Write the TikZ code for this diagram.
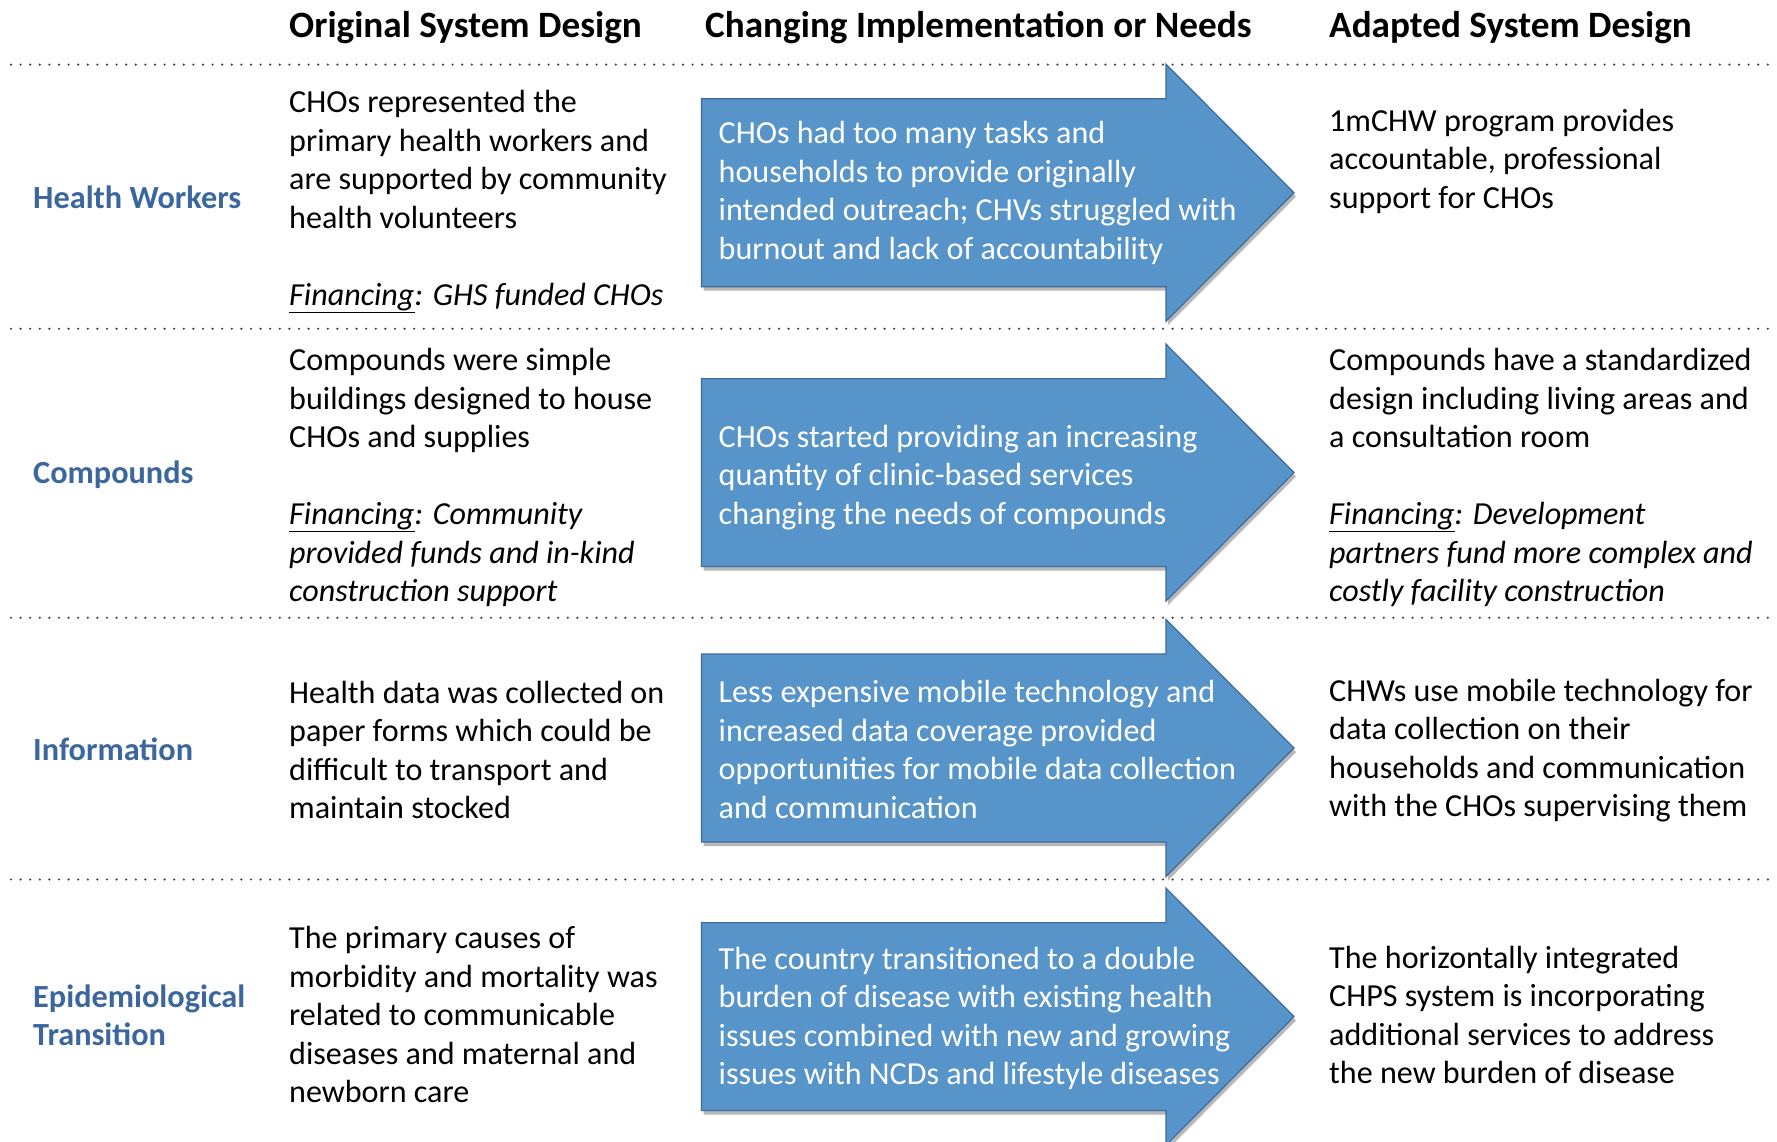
\documentclass[tikz,border=0pt]{standalone}
\usepackage{fontspec}
\setmainfont{Carlito}
\usepackage{xcolor}
\usepackage{tikz}
\usetikzlibrary{positioning,calc}

\definecolor{arrowblue}{RGB}{86,148,201}
\definecolor{arrowline}{RGB}{62,106,154}
\definecolor{labelblue}{RGB}{60,103,158}

\begin{document}
\begin{tikzpicture}[x=1pt,y=-1pt,
    headtext/.style={anchor=west,inner sep=0pt,font=\fontsize{37.2}{42}\selectfont\bfseries},
    rowlabel/.style={anchor=west,inner sep=0pt,align=left,text=labelblue,font=\fontsize{32.3}{38.5}\selectfont\bfseries},
    celltext/.style={anchor=west,inner sep=0pt,align=left,font=\fontsize{32.1}{38.5}\selectfont},
    arrowtext/.style={celltext,text=white},
    dotline/.style={line width=2.4pt,dash pattern=on 0pt off 9.6pt,line cap=round,black!75}]
    \clip (0,0) rectangle (1777,1141);
    \fill[white] (0,0) rectangle (1777,1141);
    % row separators
    \foreach \y in {64.6,328.7,617.7,879.5}
        \draw[dotline] (11,\y) -- (1777,\y);
    % block arrows
    \foreach \c in {192.7,472.6,748,1016.6} {
        \fill[black,opacity=0.28,xshift=2pt,yshift=-4pt] (701.5,\c-94) -- (1166,\c-94) -- (1166,\c-128.5) -- (1294,\c) -- (1166,\c+128.5) -- (1166,\c+94) -- (701.5,\c+94) -- cycle;
        \filldraw[fill=arrowblue,draw=arrowline,line width=1.2pt] (701.5,\c-94) -- (1166,\c-94) -- (1166,\c-128.5) -- (1294,\c) -- (1166,\c+128.5) -- (1166,\c+94) -- (701.5,\c+94) -- cycle;
    }
    % column headers
    \node[headtext] (hdorig) at (289,27.5) {Original System Design};
    \node[headtext] (hdchange) at (705,27.5) {Changing Implementation or Needs};
    \node[headtext] (hdadapt) at (1329,27.5) {Adapted System Design};
    % row labels
    \node[rowlabel] (lblworkers) at (33,197.5) {Health Workers};
    \node[rowlabel] (lblcompounds) at (33,474.5) {Compounds};
    \node[rowlabel] (lblinfo) at (33,749.5) {Information};
    \node[rowlabel] (lblepi) at (33,1015.5) {Epidemiological\\Transition};
    % original design
    \node[celltext] (origworkers) at (289,201.5) {CHOs represented the\\primary health workers and\\are supported by community\\health volunteers\\[38.5pt]\textit{\underline{Financing}: GHS funded CHOs}};
    \node[celltext] (origcompounds) at (289,477.5) {Compounds were simple\\buildings designed to house\\CHOs and supplies\\[38.5pt]\textit{\underline{Financing}: Community}\\\textit{provided funds and in-kind}\\\textit{construction support}};
    \node[celltext] (originfo) at (289,750) {Health data was collected on\\paper forms which could be\\difficult to transport and\\maintain stocked};
    \node[celltext] (origepi) at (289,1014.8) {The primary causes of\\morbidity and mortality was\\related to communicable\\diseases and maternal and\\newborn care};
    % changes
    \node[arrowtext] (chgworkers) at (718.5,192.8) {CHOs had too many tasks and\\households to provide originally\\intended outreach; CHVs struggled with\\burnout and lack of accountability};
    \node[arrowtext] (chgcompounds) at (718.5,477.3) {CHOs started providing an increasing\\quantity of clinic-based services\\changing the needs of compounds};
    \node[arrowtext] (chginfo) at (718.5,749.5) {Less expensive mobile technology and\\increased data coverage provided\\opportunities for mobile data collection\\and communication};
    \node[arrowtext] (chgepi) at (718.5,1018.4) {The country transitioned to a double\\burden of disease with existing health\\issues combined with new and growing\\issues with NCDs and lifestyle diseases};
    % adapted design
    \node[celltext] (adpworkers) at (1329,161.2) {1mCHW program provides\\accountable, professional\\support for CHOs};
    \node[celltext] (adpcompounds) at (1329,477.5) {Compounds have a standardized\\design including living areas and\\a consultation room\\[38.5pt]\textit{\underline{Financing}: Development}\\\textit{partners fund more complex and}\\\textit{costly facility construction}};
    \node[celltext] (adpinfo) at (1329,750.5) {CHWs use mobile technology for\\data collection on their\\households and communication\\with the CHOs supervising them};
    \node[celltext] (adpepi) at (1329,1015) {The horizontally integrated\\CHPS system is incorporating\\additional services to address\\the new burden of disease};
\end{tikzpicture}
\end{document}
